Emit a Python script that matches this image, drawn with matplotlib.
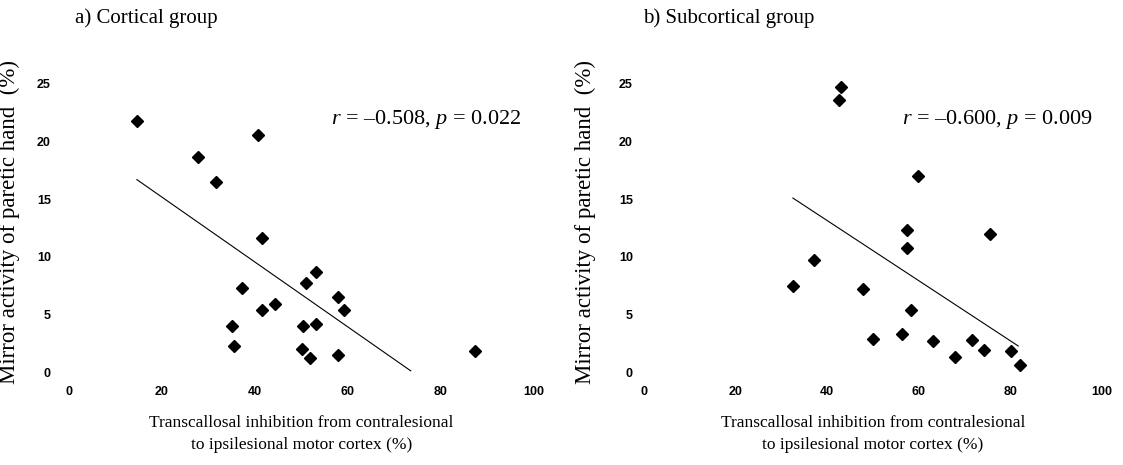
import numpy as np
import matplotlib.pyplot as plt

plt.rcParams['mathtext.fontset'] = 'custom'
plt.rcParams['mathtext.it'] = 'Liberation Serif:italic'
plt.rcParams['mathtext.rm'] = 'Liberation Serif'

# a) cortical group
cort_x = [14.6, 27.8, 31.6, 40.6, 41.6, 37.3, 41.6, 44.3, 35.1, 35.5,
          50.9, 53.2, 57.8, 59.2, 50.4, 53.1, 50.1, 51.8, 57.9, 87.4]
cort_y = [21.8, 18.7, 16.5, 20.6, 11.6, 7.3, 5.4, 5.9, 4.0, 2.3,
          7.7, 8.7, 6.5, 5.4, 4.0, 4.2, 2.0, 1.2, 1.5, 1.8]
cort_fit_x = [14.6, 73.5]
cort_fit_y = [16.7, 0.1]
cort_stat = r'$\mathit{r}$ = –0.508, $\mathit{p}$ = 0.022'

# b) subcortical group
sub_x = [43.0, 42.6, 59.9, 57.5, 57.5, 75.6, 37.2, 32.5, 47.8,
         58.4, 50.0, 56.4, 63.1, 67.8, 71.6, 74.2, 80.2, 82.0]
sub_y = [24.75, 23.6, 17.0, 12.3, 10.8, 12.0, 9.7, 7.5, 7.2,
         5.4, 2.9, 3.3, 2.7, 1.3, 2.8, 1.9, 1.8, 0.6]
sub_fit_x = [32.5, 81.7]
sub_fit_y = [15.1, 2.26]
sub_stat = r'$\mathit{r}$ = –0.600, $\mathit{p}$ = 0.009'

xticks = [0, 20, 40, 60, 80, 100]
yticks = [0, 5, 10, 15, 20, 25]
ylab = 'Mirror activity of paretic hand  (%)'
xlab = 'Transcallosal inhibition from contralesional\nto ipsilesional motor cortex (%)'

fig = plt.figure(figsize=(11.23, 4.65), dpi=100)
ax1 = fig.add_axes([0.0614, 0.2, 0.4141, 0.6194])
ax2 = fig.add_axes([0.5735, 0.2, 0.4078, 0.6194])

panels = [(ax1, cort_x, cort_y, cort_fit_x, cort_fit_y, cort_stat, 13),
          (ax2, sub_x, sub_y, sub_fit_x, sub_fit_y, sub_stat, 8)]

for ax, x, y, fx, fy, stat, ypad in panels:
    ax.plot(fx, fy, color='black', lw=0.8)
    ax.plot(x, y, 'D', color='black', ms=6, clip_on=False)
    ax.set_xlim(0, 100)
    ax.set_ylim(0, 25)
    ax.set_xticks(xticks)
    ax.set_yticks(yticks)
    for s in ax.spines.values():
        s.set_visible(False)
    ax.tick_params(axis='x', length=0, pad=10)
    ax.tick_params(axis='y', length=0, pad=ypad)
    for lab in ax.get_xticklabels() + ax.get_yticklabels():
        lab.set_fontfamily('Liberation Sans')
        lab.set_fontweight('bold')
        lab.set_fontsize(9)
    ax.set_ylabel(ylab, family='Liberation Serif', fontsize=16.5)
    ax.yaxis.set_label_coords(-0.105, 0.52)
    ax.set_xlabel(xlab, family='Liberation Serif', fontsize=12.5, linespacing=1.5)
    ax.xaxis.set_label_coords(0.5, -0.15)
    ax.text(56.3, 21.9, stat, family='Liberation Serif', fontsize=16, va='center')

fig.text(0.067, 0.961, 'a) Cortical group', family='Liberation Serif', fontsize=15, va='center')
fig.text(0.573, 0.961, 'b) Subcortical group', family='Liberation Serif', fontsize=15, va='center')

fig.savefig('out.png', dpi=100)
